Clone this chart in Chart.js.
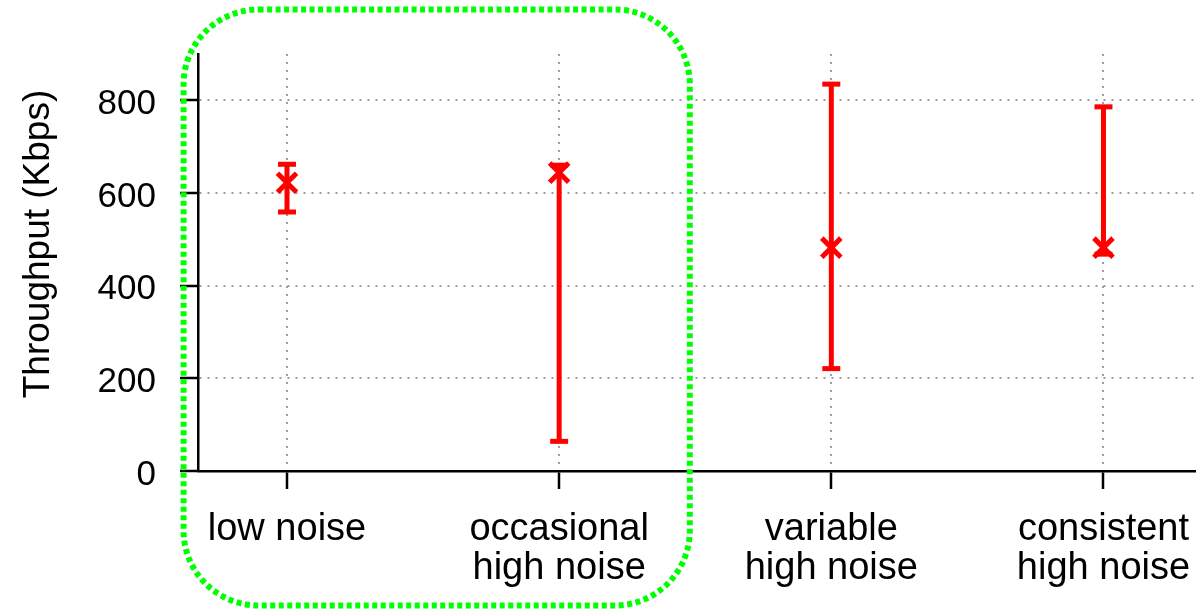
<!DOCTYPE html>
<html>
<head>
<meta charset="utf-8">
<script src="https://cdn.jsdelivr.net/npm/chart.js@4/dist/chart.umd.min.js"></script>
<style>
  html, body { margin: 0; padding: 0; background: #ffffff; }
  #wrap { width: 1196px; height: 611px; }
</style>
</head>
<body>
<div id="wrap"><canvas id="chart" width="1196" height="611"></canvas></div>
<script>
// Throughput per noise scenario: mean with min/max range (Kbps)
const categories = ['low noise', 'occasional high noise', 'variable high noise', 'consistent high noise'];
const tickLabels = [['low noise'], ['occasional', 'high noise'], ['variable', 'high noise'], ['consistent', 'high noise']];
const means = [622, 644, 482, 482];
const lows  = [559, 64, 221, 468];
const highs = [662, 660, 835, 786];
const yTicks = [0, 200, 400, 600, 800];

const RED = '#ff0000';
const FONT = "'Liberation Sans', Arial, Helvetica, sans-serif";

// one vertical range line per scenario, with flat caps at both ends
const rangeSets = categories.map((c, i) => ({
  type: 'line',
  label: c,
  data: [{ x: i, y: lows[i] }, { x: i, y: highs[i] }],
  borderColor: RED,
  borderWidth: 5,
  pointStyle: 'line',
  pointRadius: 9,
  pointBorderWidth: 5,
  pointBorderColor: RED,
  pointBackgroundColor: RED,
  fill: false,
  order: 2
}));

const meanSet = {
  type: 'scatter',
  label: 'mean',
  data: means.map((v, i) => ({ x: i, y: v })),
  pointStyle: 'crossRot',
  pointRadius: 13.5,
  pointBorderWidth: 5,
  borderColor: RED,
  backgroundColor: RED,
  order: 1
};

// rotated y-axis title
const yTitlePlugin = {
  id: 'yTitle',
  afterDraw(chart) {
    const ctx = chart.ctx;
    ctx.save();
    ctx.translate(48.5, 244);
    ctx.rotate(-Math.PI / 2);
    ctx.font = '37px ' + FONT;
    ctx.fillStyle = '#000';
    ctx.textAlign = 'center';
    ctx.textBaseline = 'alphabetic';
    ctx.fillText('Throughput (Kbps)', 0, 0);
    ctx.restore();
  }
};

// dotted rounded frame around the first two scenarios
const highlightPlugin = {
  id: 'highlight',
  afterDraw(chart) {
    const xs = chart.scales.x;
    const left = xs.getPixelForValue(-0.38);
    const right = xs.getPixelForValue(1.48);
    const top = 9.5, bottom = 605.5, r = 75;
    const ctx = chart.ctx;
    ctx.save();
    ctx.strokeStyle = '#00ff00';
    ctx.lineWidth = 6;
    ctx.setLineDash([5, 3.5]);
    ctx.beginPath();
    ctx.roundRect(left, top, right - left, bottom - top, r);
    ctx.stroke();
    ctx.restore();
  }
};

// let the plot run to the canvas edge: labels may sit close to it
const noPadding = () => ({ left: 0, top: 0, right: 0, bottom: 0 });

new Chart(document.getElementById('chart'), {
  data: { datasets: [...rangeSets, meanSet] },
  options: {
    responsive: false,
    animation: false,
    layout: { autoPadding: false, padding: { top: 54, right: 0, bottom: 0, left: 0 } },
    plugins: { legend: { display: false }, tooltip: { enabled: false } },
    scales: {
      x: {
        type: 'linear',
        min: -0.327,
        max: 3.34,
        afterBuildTicks(scale) { scale.ticks = categories.map((c, i) => ({ value: i })); },
        afterFit(scale) {
          scale.height = 140;
          scale.paddingLeft = 0;
          scale.paddingRight = 0;
          scale.getPadding = noPadding;
        },
        ticks: {
          autoSkip: false,
          maxRotation: 0,
          minRotation: 0,
          padding: 21,
          color: '#000',
          font: { family: FONT, size: 38, lineHeight: 1.03 },
          callback: (v) => tickLabels[v]
        },
        grid: {
          color: 'rgba(140,140,140,0.85)',
          lineWidth: 2,
          tickLength: 18,
          tickColor: '#000',
          tickWidth: 2.5,
          tickBorderDash: []
        },
        border: { display: true, color: '#000', width: 2.5, dash: [2, 6] }
      },
      y: {
        type: 'linear',
        min: 0,
        max: 900,
        afterBuildTicks(scale) { scale.ticks = yTicks.map(v => ({ value: v })); },
        afterFit(scale) {
          scale.width = 198;
          scale.paddingTop = 0;
          scale.paddingBottom = 0;
          scale.getPadding = noPadding;
        },
        ticks: {
          padding: 24,
          labelOffset: 4,
          color: '#000',
          font: { family: FONT, size: 35 }
        },
        grid: {
          color: 'rgba(140,140,140,0.85)',
          lineWidth: 2,
          tickLength: 18,
          tickColor: '#000',
          tickWidth: 2.5,
          tickBorderDash: []
        },
        border: { display: true, color: '#000', width: 2.5, dash: [2, 6] }
      }
    }
  },
  plugins: [yTitlePlugin, highlightPlugin]
});
</script>
</body>
</html>
